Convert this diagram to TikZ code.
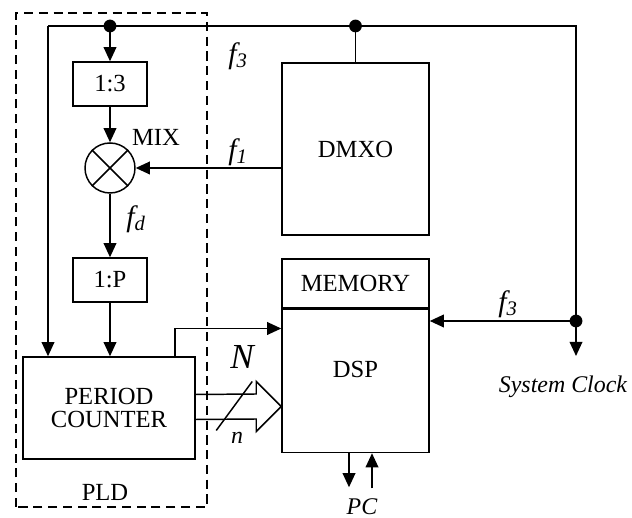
\documentclass[tikz,border=0pt]{standalone}
\usepackage{fontspec}
\setmainfont{Liberation Serif}
\usepackage{tikz}
\usetikzlibrary{arrows.meta,positioning,calc}
\tikzset{
  % Generic block
  blk/.style={rectangle, draw=black, line width=1.05pt, fill=white,
              inner sep=0pt, align=center},
  % Mixer
  mixer/.style={circle, draw=black, line width=1.05pt, fill=white,
                minimum size=1.25cm, inner sep=0pt},
  % Junction dot
  jdot/.style={circle, fill=black, inner sep=0pt, minimum size=0.32cm},
  % Arrows
  arr/.style ={-{Triangle[length=10pt,width=9pt]}, line width=1.05pt},
  wire/.style={line width=1.05pt},
  bus/.style ={line width=1.05pt, line join=miter},
  % PLD frame
  pld/.style ={line width=1.5pt, dash pattern=on 6.5pt off 4pt},
  % Italic labels
  ilbl/.style={font=\fontsize{17}{20}\selectfont\itshape},
  flbl/.style={font=\fontsize{21}{23}\selectfont\itshape},
}

\begin{document}
\begin{tikzpicture}[x=0.025cm,y=0.025cm,font=\fontsize{17.5}{20}\selectfont]
    \useasboundingbox (0,0) rectangle (632,518);

    % ── PLD frame ─────────────────────────────────────────
    \draw[pld] (16,11) rectangle (207,505);
    \node (pldlbl) at (105,26) {PLD};

    % ── Blocks ───────────────────────────────────────────
    \node[blk, minimum width=1.85cm, minimum height=1.1cm] (div3) at (110,434) {1:3};
    \node[mixer] (mix) at (110,350) {};
    \draw[wire] (mix.north east) -- (mix.south west);
    \draw[wire] (mix.north west) -- (mix.south east);
    \node (mixlbl) at (156,381) {MIX};
    \node[blk, minimum width=1.85cm, minimum height=1.1cm] (divP) at (110,238) {1:P};
    \node[blk, minimum width=4.3cm, minimum height=2.55cm] (counter) at (109,110)
          {PERIOD\\[-3pt]COUNTER};
    \node[blk, minimum width=3.675cm, minimum height=4.3cm] (dmxo) at (355.5,369) {DMXO};
    \node[blk, minimum width=3.675cm, minimum height=1.225cm] (mem) at (355.5,234.5) {MEMORY};
    \node[blk, minimum width=3.675cm, minimum height=3.575cm, anchor=north] (dsp)
          at (mem.south) {};
    \node (dsplbl) at ($(dsp.center)+(0,11.5)$) {DSP};

    % ── Clock wiring ─────────────────────────────────────
    \coordinate (tl) at (48,492);
    \coordinate (tr) at (576,492);
    \coordinate (clk) at (576,197);
    \node[jdot] (jA) at (div3.north |- tl) {};
    \node[jdot] (jB) at (dmxo.north |- tl) {};
    \node[jdot] (jC) at (clk) {};
    \draw[wire] (tl) -- (tr) -- (jC.center);
    \draw[arr] (tl) -- (tl |- counter.north);
    \draw[arr] (jA.center) -- (div3.north);
    \draw[wire] (jB.center) -- (dmxo.north);
    \draw[arr] (jC.center) -- (jC.center -| dsp.east);
    \coordinate (sysclk) at (576,162);
    \draw[arr] (jC.center) -- (sysclk);
    \node[ilbl, anchor=east] (sysclklbl) at (632,131) {System Clock};

    % ── Signal path ──────────────────────────────────────
    \draw[arr] (div3.south) -- (mix.north);
    \draw[arr] (mix.east -| dmxo.west) -- (mix.east);
    \draw[arr] (mix.south) -- (divP.north);
    \draw[arr] (divP.south) -- (divP.south |- counter.north);
    \coordinate (cout) at ($(counter.north)+(66,0)$);
    \coordinate (dspin) at ($(dsp.west)+(0,52.5)$);
    \draw[arr] (cout) |- (dspin);

    % ── Data bus N / n ───────────────────────────────────
    \coordinate (bustip) at ($(counter.east -| dsp.west)+(0,1.5)$);
    \draw[bus] ($(counter.east)+(0,13.5)$) -- ($(bustip)+(-25,12.5)$)
          -- ($(bustip)+(-25,25)$) -- (bustip) -- ($(bustip)+(-25,-25)$)
          -- ($(bustip)+(-25,-12.5)$) -- ($(counter.east)+(0,-11.5)$);
    \draw[wire] ($(bustip)+(-65,-24)$) -- ($(bustip)+(-29,25)$);
    \node[font=\fontsize{25}{27}\selectfont\itshape] (Nlbl) at (242,161) {N};
    \node[ilbl] (nlbl) at (237,80) {n};

    % ── PC port ──────────────────────────────────────────
    \draw[arr] ($(dsp.south)+(-6.5,0)$) -- ++(0,-34);
    \draw[arr] ($(dsp.south)+(16.5,-35)$) -- ++(0,35);
    \node[ilbl] (pclbl) at (362,11) {PC};

    % ── Frequency labels ─────────────────────────────────
    \node[flbl] (f3top) at (238,462) {f\textsubscript{3}};
    \node[flbl] (f1lbl) at (238,366) {f\textsubscript{1}};
    \node[flbl] (fdlbl) at (136,299) {f\textsubscript{d}};
    \node[flbl] (f3rgt) at (508,214) {f\textsubscript{3}};

  \end{tikzpicture}
\end{document}
